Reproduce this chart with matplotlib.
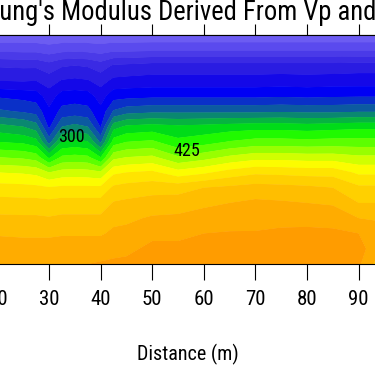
import numpy as np
import matplotlib
matplotlib.use("Agg")
import matplotlib.pyplot as plt
from matplotlib.colors import ListedColormap, BoundaryNorm

# 측선 거리 (m) / 깊이 (m)
distance = [20, 25, 27.5, 30, 32.5, 35, 37.5, 40, 42.5, 45, 50, 55, 60, 65, 70, 75, 80, 85, 90, 95]
depth = [0, 2, 4, 6, 8, 10, 12, 14, 16, 18, 20, 22, 24, 26, 28, 30]

# 각 거리 위치의 깊이별 영률 값
modulus_columns = [
    [130, 170, 222, 250, 297, 330, 385, 425, 475, 525, 560, 585, 605, 622, 640, 650],
    [130, 168, 220, 248, 292, 322, 375, 420, 470, 522, 558, 584, 604, 620, 638, 650],
    [130, 168, 220, 250, 288, 316, 362, 410, 463, 518, 556, 584, 604, 620, 638, 650],
    [130, 162, 210, 238, 262, 280, 295, 340, 420, 500, 552, 582, 602, 620, 638, 650],
    [130, 168, 222, 252, 286, 308, 350, 402, 455, 510, 555, 585, 605, 622, 640, 650],
    [130, 170, 225, 255, 288, 312, 358, 408, 458, 512, 555, 585, 605, 622, 640, 650],
    [130, 168, 222, 252, 286, 308, 350, 402, 455, 510, 555, 585, 605, 622, 640, 650],
    [130, 164, 212, 240, 264, 282, 298, 345, 425, 505, 555, 585, 605, 622, 640, 652],
    [130, 170, 228, 256, 290, 328, 390, 438, 492, 545, 580, 602, 618, 630, 643, 654],
    [130, 170, 230, 258, 292, 340, 405, 450, 500, 550, 585, 605, 620, 632, 645, 655],
    [130, 172, 235, 260, 295, 345, 410, 455, 505, 555, 590, 610, 628, 645, 655, 662],
    [130, 172, 235, 260, 295, 345, 405, 432, 478, 535, 590, 612, 630, 645, 655, 662],
    [130, 172, 235, 260, 295, 345, 408, 440, 490, 545, 600, 620, 635, 650, 658, 664],
    [130, 172, 235, 260, 295, 345, 412, 452, 505, 560, 605, 625, 638, 652, 660, 665],
    [130, 172, 235, 260, 295, 345, 415, 460, 515, 570, 610, 630, 640, 652, 660, 665],
    [130, 172, 235, 262, 297, 347, 415, 460, 515, 568, 608, 628, 642, 655, 662, 668],
    [130, 172, 235, 260, 295, 345, 412, 458, 512, 565, 605, 625, 642, 656, 664, 668],
    [130, 172, 235, 262, 297, 345, 415, 460, 512, 565, 600, 622, 640, 655, 662, 668],
    [130, 172, 238, 262, 298, 348, 418, 460, 505, 545, 580, 600, 625, 650, 660, 655],
    [130, 172, 238, 262, 298, 348, 418, 460, 505, 545, 580, 600, 620, 640, 625, 600],
]

contour_labels = ["300", "425"]
label_pos = [(34.3, 13.4), (56.7, 15.2)]

xticks = [20, 30, 40, 50, 60, 70, 80, 90]

band_colors = [
    "#6c5cf2", "#5a4aee", "#4a3ae8", "#3a2ae4", "#2a1ce2", "#1408e8",
    "#0000f4", "#0a30c8", "#0c5aa0", "#0a8870", "#06b440", "#00dc18",
    "#20fa00", "#5cff00", "#98ff00", "#d0ff00", "#fcfc00", "#ffe400",
    "#ffd000", "#ffbe00", "#ffac00", "#ff9c00",
]
levels = np.arange(125, 126 + 25 * len(band_colors), 25)

fnt = ["Roboto Condensed", "Liberation Sans Narrow", "Liberation Sans", "DejaVu Sans"]

X, Y = np.meshgrid(distance, depth)
Z = np.array(modulus_columns).T

cmap = ListedColormap(band_colors)
norm = BoundaryNorm(levels, cmap.N)

fig = plt.figure(figsize=(3.75, 3.66), dpi=100)
# 축이 그림 밖으로 넘어가도록 (원본 잘린 화면)
ax = fig.add_axes([-0.2821, 0.2787, 1.376, 0.6257])
ax.contourf(X, Y, Z, levels=levels, cmap=cmap, norm=norm, antialiased=True)
ax.contourf(X, Y, Z, levels=levels, cmap=cmap, norm=norm, antialiased=True)

for txt, (px, py) in zip(contour_labels, label_pos):
    ax.text(px, py, txt, ha="center", va="center", fontsize=13, family=fnt, color="black")

ax.set_xlim(0, 100)
ax.set_ylim(30, 0)
ax.set_xticks(xticks)
ax.set_yticks([])
ax.tick_params(axis="x", direction="out", length=11.5, width=0.8, pad=7, labelsize=15)
for lb in ax.get_xticklabels():
    lb.set_family(fnt)

top = ax.secondary_xaxis("top")
top.set_xticks(xticks)
top.tick_params(direction="out", length=8, width=0.8, labeltop=False)

ax.set_xlabel("Distance (m)", fontsize=14.5, family=fnt)
ax.xaxis.set_label_coords(0.569, -0.35)

fig.text(-0.075, 0.965, "Young's Modulus Derived From Vp and Vs", ha="left", va="center",
         fontsize=19.2, family=fnt)

fig.savefig("out.png", dpi=100)
